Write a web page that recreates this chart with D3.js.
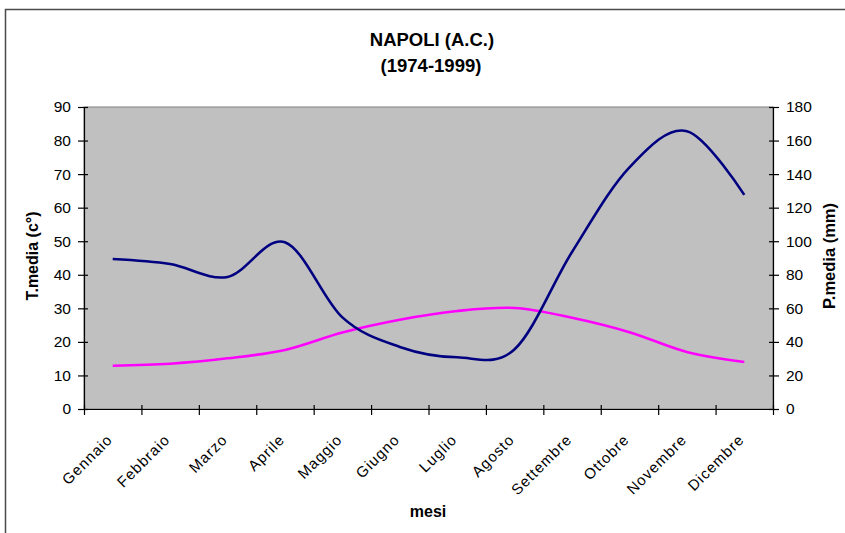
<!DOCTYPE html>
<html>
<head>
<meta charset="utf-8">
<script src="https://cdn.jsdelivr.net/npm/d3@7"></script>
<style>
  body { margin: 0; background: #fff; }
  svg { display: block; font-family: "Liberation Sans", Arial, sans-serif; }
</style>
</head>
<body>
<svg width="845" height="533"></svg>
<script>
// months on the x axis
var months = ["Gennaio", "Febbraio", "Marzo", "Aprile", "Maggio", "Giugno",
  "Luglio", "Agosto", "Settembre", "Ottobre", "Novembre", "Dicembre"];
// temperatura media (left axis)
var tMedia = [12.9, 13.5, 15.1, 17.6, 22.8, 26.6, 29.2, 30.1, 27.2, 22.9, 17.0, 14.0];
// precipitazione media in mm (right axis)
var pMedia = [89.4, 86.4, 78.7, 99.4, 54.6, 37.0, 30.8, 35.6, 93.6, 144, 165.6, 127.6];
var tTicks = [0, 10, 20, 30, 40, 50, 60, 70, 80, 90];
var pTicks = [0, 20, 40, 60, 80, 100, 120, 140, 160, 180];

var svg = d3.select("svg");
var plot = { left: 84, right: 773, top: 107, bottom: 409 };

// outer chart frame (only left and top edges show)
svg.append("rect")
  .attr("x", 5.5).attr("y", 9.5)
  .attr("width", 900).attr("height", 600)
  .attr("fill", "none")
  .attr("stroke", "#4a4a4a")
  .attr("stroke-width", 1.5);

var x = d3.scaleBand(months, [plot.left, plot.right]).padding(0);
var xEdge = d3.scaleLinear([0, 12], [plot.left, plot.right]);
var yT = d3.scaleLinear([0, 90], [plot.bottom, plot.top]);
var yP = d3.scaleLinear([0, 180], [plot.bottom, plot.top]);

svg.append("rect")
  .attr("x", plot.left).attr("y", plot.top)
  .attr("width", plot.right - plot.left)
  .attr("height", plot.bottom - plot.top)
  .attr("fill", "#c0c0c0")
  .attr("stroke", "#808080");

var cx = function (d, i) { return x(months[i]) + x.bandwidth() / 2; };

var line = function (yScale) {
  return d3.line()
    .x(cx)
    .y(function (d) { return yScale(d); })
    .curve(d3.curveCardinal.tension(0));
};

svg.append("path")
  .datum(tMedia)
  .attr("d", line(yT))
  .attr("fill", "none")
  .attr("stroke", "#ff00ff")
  .attr("stroke-width", 2.6);

svg.append("path")
  .datum(pMedia)
  .attr("d", line(yP))
  .attr("fill", "none")
  .attr("stroke", "#000080")
  .attr("stroke-width", 2.6);

// axes: ticks cross the axis line (4 in, 6 out)
function styleAxis(g) {
  g.select(".domain").attr("stroke", "#000").attr("stroke-width", 1.2);
  g.selectAll(".tick line").attr("stroke", "#000").attr("stroke-width", 1.2);
  g.selectAll(".tick text").attr("fill", "#000");
}

var left = svg.append("g")
  .attr("transform", `translate(${plot.left},0)`)
  .call(d3.axisLeft(yT).tickValues(tTicks).tickSizeInner(6).tickSizeOuter(0).tickPadding(7))
  .attr("font-size", 15.5).attr("font-family", null);
left.selectAll(".tick line").attr("x2", -6).attr("x1", 4);
styleAxis(left);

var right = svg.append("g")
  .attr("transform", `translate(${plot.right},0)`)
  .call(d3.axisRight(yP).tickValues(pTicks).tickSizeInner(6).tickSizeOuter(0).tickPadding(7))
  .attr("font-size", 15.5).attr("font-family", null);
right.selectAll(".tick line").attr("x2", 6).attr("x1", -4);
styleAxis(right);

var bottom = svg.append("g")
  .attr("transform", `translate(0,${plot.bottom})`)
  .call(d3.axisBottom(xEdge).ticks(12).tickSizeInner(6).tickSizeOuter(0).tickFormat(""));
bottom.selectAll(".tick line").attr("y2", 6).attr("y1", -4);
styleAxis(bottom);

// rotated month labels
svg.append("g")
  .selectAll("text")
  .data(months)
  .join("text")
  .attr("transform", function (d) {
    return `translate(${x(d) + x.bandwidth() / 2 - 3},437) rotate(-45)`;
  })
  .attr("text-anchor", "end")
  .attr("dy", "0.35em")
  .attr("font-size", 15)
  .attr("letter-spacing", 1)
  .attr("fill", "#000")
  .text(function (d) { return d; });

// titles
svg.append("text")
  .attr("x", 432).attr("y", 46)
  .attr("text-anchor", "middle")
  .attr("font-size", 18.5).attr("font-weight", "bold")
  .text("NAPOLI (A.C.)");
svg.append("text")
  .attr("x", 431).attr("y", 72)
  .attr("text-anchor", "middle")
  .attr("font-size", 18.5).attr("font-weight", "bold")
  .text("(1974-1999)");

svg.append("text")
  .attr("transform", "translate(38,256) rotate(-90)")
  .attr("text-anchor", "middle")
  .attr("font-size", 16).attr("font-weight", "bold")
  .text("T.media (c°)");

svg.append("text")
  .attr("transform", "translate(835,256) rotate(-90)")
  .attr("text-anchor", "middle")
  .attr("font-size", 16.5).attr("font-weight", "bold")
  .text("P.media (mm)");

svg.append("text")
  .attr("x", 428).attr("y", 517)
  .attr("text-anchor", "middle")
  .attr("font-size", 16).attr("font-weight", "bold")
  .text("mesi");
</script>
</body>
</html>
